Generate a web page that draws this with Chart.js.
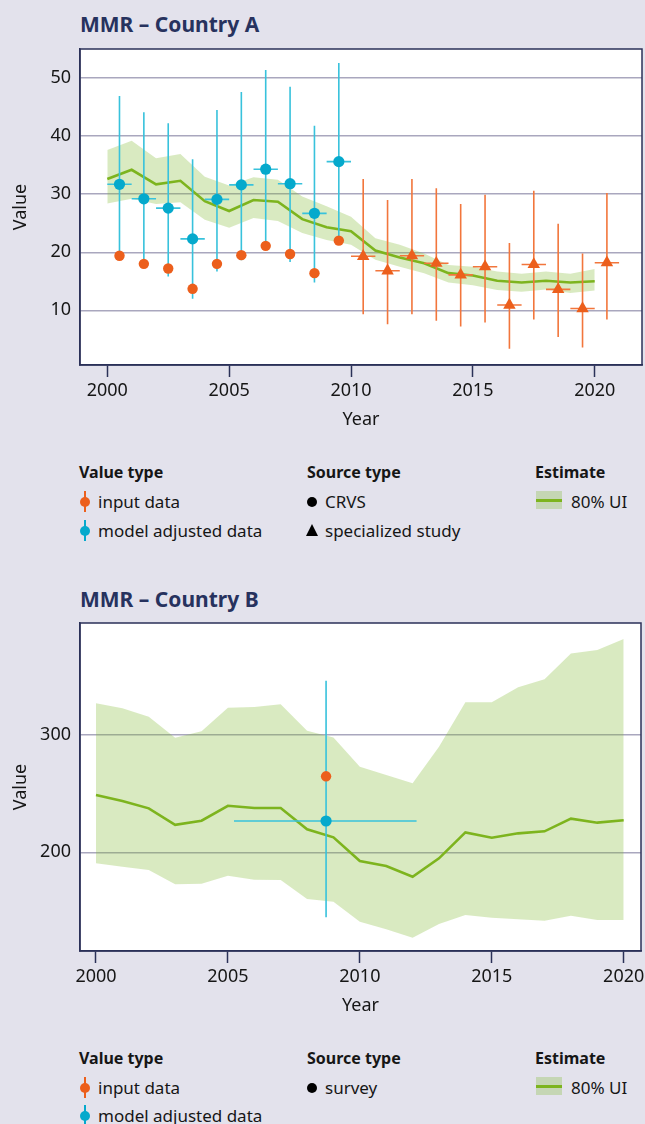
<!DOCTYPE html>
<html>
<head>
<meta charset="utf-8">
<script src="https://cdn.jsdelivr.net/npm/chart.js@4/dist/chart.umd.min.js"></script>
<style>
  body { margin:0; width:645px; height:1124px; background:#e3e2ec; position:relative; overflow:hidden;
         font-family:"Noto Sans", sans-serif; color:#161616; }
  .title { position:absolute; left:80px; height:28px; line-height:28px; font-size:21px; font-weight:700; color:#27325e; }
  canvas { position:absolute; left:0; }
  .hd { position:absolute; height:22px; line-height:22px; font-size:16px; font-weight:700; }
  .it { position:absolute; height:22px; line-height:22px; font-size:17px; }
  .eb { position:absolute; width:10px; height:21px; }
  .eb::before { content:""; position:absolute; left:4px; top:0; width:2px; height:21px; background:var(--c); }
  .eb::after  { content:""; position:absolute; left:0; top:5.5px; width:10px; height:10px; border-radius:50%; background:var(--c); }
  .dot { position:absolute; width:10px; height:10px; border-radius:50%; background:#000; }
  .tri { position:absolute; width:0; height:0; border-left:6.5px solid transparent; border-right:6.5px solid transparent; border-bottom:12px solid #000; }
  .band { position:absolute; width:26px; height:18px; background:rgba(130,185,50,0.3); }
  .band::after { content:""; position:absolute; left:0; top:7.5px; width:26px; height:3px; background:#7db41e; }
</style>
</head>
<body>

<div class="title" style="top:10px">MMR – Country A</div>
<canvas id="chartA" width="645" height="400" style="top:40px"></canvas>

<div class="hd" style="left:79px;top:461px">Value type</div>
<div class="eb" style="left:80px;top:491px;--c:#ec5f1c"></div>
<div class="it" style="left:98px;top:491px">input data</div>
<div class="eb" style="left:80px;top:520px;--c:#05a9cc"></div>
<div class="it" style="left:98px;top:520px">model adjusted data</div>
<div class="hd" style="left:307px;top:461px">Source type</div>
<div class="dot" style="left:307px;top:497px"></div>
<div class="it" style="left:325px;top:491px">CRVS</div>
<div class="tri" style="left:306px;top:524px"></div>
<div class="it" style="left:325px;top:520px">specialized study</div>
<div class="hd" style="left:535px;top:461px">Estimate</div>
<div class="band" style="left:536px;top:491px"></div>
<div class="it" style="left:571px;top:491px">80% UI</div>

<div class="title" style="top:585px">MMR – Country B</div>
<canvas id="chartB" width="645" height="414" style="top:612px"></canvas>

<div class="hd" style="left:79px;top:1047px">Value type</div>
<div class="eb" style="left:80px;top:1077px;--c:#ec5f1c"></div>
<div class="it" style="left:98px;top:1077px">input data</div>
<div class="eb" style="left:80px;top:1105px;--c:#05a9cc"></div>
<div class="it" style="left:98px;top:1105px">model adjusted data</div>
<div class="hd" style="left:307px;top:1047px">Source type</div>
<div class="dot" style="left:307px;top:1083px"></div>
<div class="it" style="left:325px;top:1077px">survey</div>
<div class="hd" style="left:535px;top:1047px">Estimate</div>
<div class="band" style="left:536px;top:1077px"></div>
<div class="it" style="left:571px;top:1077px">80% UI</div>

<script>
/* ---- Country A ---------------------------------------------------- */
const yearsA  = [2000,2001,2002,2003,2004,2005,2006,2007,2008,2009,2010,2011,2012,2013,2014,2015,2016,2017,2018,2019,2020];
const estA    = [32.6,34.2,31.7,32.3,28.8,27.1,29.0,28.7,25.7,24.3,23.6,20.3,19.1,18.1,16.4,16.0,15.1,14.8,15.1,14.8,15.0];
const estLoA  = [28.4,29.2,28.3,28.6,25.6,24.2,25.9,25.4,23.3,22.1,21.3,18.7,17.5,16.4,14.8,14.3,13.5,13.2,13.6,13.0,13.4];
const estHiA  = [37.6,39.2,36.2,36.9,33.0,31.5,32.9,32.5,29.6,27.9,26.1,22.4,21.3,19.8,17.8,17.5,16.7,16.3,16.7,16.3,17.1];

// CRVS observations: input value and model adjusted value with its interval
const crvsXA  = [2000.5,2001.5,2002.5,2003.5,2004.5,2005.5,2006.5,2007.5,2008.5,2009.5];
const crvsYA  = [19.4,18.0,17.2,13.7,18.0,19.5,21.1,19.7,16.4,22.0];
const adjYA   = [31.7,29.2,27.6,22.3,29.1,31.6,34.3,31.8,26.7,35.6];
const adjLoA  = [19.4,18.0,15.8,12.0,16.7,18.6,21.1,18.3,14.8,22.0];
const adjHiA  = [46.9,44.1,42.2,36.0,44.5,47.6,51.4,48.5,41.8,52.6];

// specialized studies (input data)
const studyXA  = [2010.5,2011.5,2012.5,2013.5,2014.5,2015.5,2016.5,2017.5,2018.5,2019.5,2020.5];
const studyYA  = [19.3,16.8,19.4,18.1,16.1,17.5,10.9,17.9,13.6,10.3,18.2];
const studyLoA = [9.3,7.6,9.3,8.2,7.2,7.9,3.4,8.4,5.4,3.6,8.4];
const studyHiA = [32.6,29.0,32.6,31.0,28.3,29.9,21.6,30.6,24.9,19.8,30.2];

const periodHalfA = 0.5;            // each observation covers one calendar year
const xTicksA = [2000,2005,2010,2015,2020];
const yTicksA = [10,20,30,40,50];

/* ---- Country B ---------------------------------------------------- */
const yearsB  = yearsA;
const estB    = [248.8,243.7,237.5,223.5,227.0,239.7,237.8,237.8,219.6,212.8,192.6,188.3,179.2,194.9,217.0,212.4,216.2,217.9,228.7,225.3,227.3];
const estLoB  = [190.6,187.7,184.9,172.7,173.2,180.0,176.6,176.4,160.2,157.9,140.8,134.4,127.2,138.9,146.5,144.3,142.9,141.7,146.0,142.3,142.3];
const estHiB  = [327.0,322.8,315.6,297.7,303.3,323.3,323.9,326.2,303.7,298.0,273.0,265.9,258.8,290.0,327.9,327.9,340.7,347.5,369.6,372.5,381.8];

const surveyXB    = [2008.72];
const surveyYB    = [264.8];
const surveyFromB = [2005.23];
const surveyToB   = [2012.15];
const adjYB   = [226.7];
const adjLoB  = [144.6];
const adjHiB  = [346.3];

const xTicksB = [2000,2005,2010,2015,2020];
const yTicksB = [200,300];

/* ---- styling ------------------------------------------------------ */
const NAVY = '#2b3158', GRID = '#a9a7be', GREEN = '#7db41e', BAND = 'rgba(130,185,50,0.3)';
const ORANGE = '#ec5f1c', ORANGE_BAR = '#f2763c', BLUE = '#05a9cc', BLUE_BAR = '#38c2dc';
const FONT = '"Noto Sans", sans-serif';

const pts = (xs, ys) => xs.map((x, i) => ({ x, y: ys[i] }));

// white plot area + dark frame round it
const frame = {
  id: 'frame',
  beforeDraw(chart) {
    const { ctx, chartArea: a } = chart;
    ctx.save();
    ctx.fillStyle = '#fff';
    ctx.fillRect(a.left, a.top, a.width, a.height);
    ctx.restore();
  },
  afterDraw(chart) {
    const { ctx, chartArea: a } = chart;
    ctx.save();
    ctx.strokeStyle = NAVY;
    ctx.lineWidth = 1.5;
    ctx.strokeRect(a.left, a.top, a.width, a.height);
    ctx.restore();
  },
};

// error bars, drawn right after the estimate line so the markers sit on top
const errorBars = {
  id: 'errorBars',
  afterDatasetDraw(chart, args, opts) {
    if (args.index !== opts.after) return;
    const { ctx, chartArea: a, scales: { x, y } } = chart;
    ctx.save();
    ctx.beginPath();
    ctx.rect(a.left, a.top, a.width, a.height);
    ctx.clip();
    ctx.lineWidth = 1.6;
    opts.sets.forEach(s => {
      ctx.strokeStyle = s.color;
      s.x.forEach((v, i) => {
        const px = x.getPixelForValue(v);
        const py = y.getPixelForValue(s.y[i]);
        ctx.beginPath();
        ctx.moveTo(px, y.getPixelForValue(s.lo[i]));
        ctx.lineTo(px, y.getPixelForValue(s.hi[i]));
        ctx.moveTo(x.getPixelForValue(s.from[i]), py);
        ctx.lineTo(x.getPixelForValue(s.to[i]), py);
        ctx.stroke();
      });
    });
    ctx.restore();
  },
};

// fixed axis sizes; drop the label overhang padding so layout.padding decides the plot box
const fixX = s => { s.height = 75; s.paddingLeft = 0; s.paddingRight = 0; };
const fixY = s => { s.width = 80; s.paddingTop = 0; s.paddingBottom = 0; };

function axes(xr, yr, xTicks, yTicks) {
  return {
    x: {
      type: 'linear', min: xr[0], max: xr[1],
      afterBuildTicks: s => { s.ticks = xTicks.map(value => ({ value })); },
      afterFit: fixX,
      grid: { drawOnChartArea: false, tickLength: 12, tickColor: NAVY, tickWidth: 1.5 },
      border: { color: NAVY, width: 1.5 },
      ticks: { color: '#161616', padding: 3.5, font: { family: FONT, size: 18 }, callback: v => String(v) },
      title: { display: true, text: 'Year', color: '#161616', padding: { top: 0, bottom: 9 }, font: { family: FONT, size: 18 } },
    },
    y: {
      type: 'linear', min: yr[0], max: yr[1],
      afterBuildTicks: s => { s.ticks = yTicks.map(value => ({ value })); },
      afterFit: fixY,
      grid: { color: GRID, lineWidth: 1.4, drawTicks: false },
      border: { color: NAVY, width: 1.5 },
      ticks: { color: '#161616', padding: 9, font: { family: FONT, size: 18 }, callback: v => String(v) },
      title: { display: true, text: 'Value', color: '#161616', padding: { top: 10, bottom: 0 }, font: { family: FONT, size: 18 } },
    },
  };
}

function bandSets(years, lo, hi, est) {
  return [
    { data: pts(years, lo), borderWidth: 0, pointRadius: 0, fill: false, order: 5 },
    { data: pts(years, hi), borderWidth: 0, pointRadius: 0, fill: '-1', backgroundColor: BAND, order: 4 },
    { data: pts(years, est), borderColor: GREEN, borderWidth: 2.6, pointRadius: 0, fill: false, tension: 0, order: 3 },
  ];
}

function mk(id, datasets, scales, padding, bars) {
  return new Chart(document.getElementById(id), {
    type: 'line',
    data: { datasets },
    options: {
      responsive: false, animation: false,
      layout: { padding, autoPadding: false },
      scales,
      plugins: { legend: { display: false }, tooltip: { enabled: false }, errorBars: { after: 2, sets: bars } },
    },
    plugins: [frame, errorBars],
  });
}

/* ---- Chart A ------------------------------------------------------ */
mk('chartA', [
  ...bandSets(yearsA, estLoA, estHiA, estA),
  { data: pts(crvsXA, adjYA), showLine: false, pointStyle: 'circle', pointRadius: 5.6, pointBorderWidth: 0, pointBackgroundColor: BLUE, order: 1 },
  { data: pts(crvsXA, crvsYA), showLine: false, pointStyle: 'circle', pointRadius: 5.2, pointBorderWidth: 0, pointBackgroundColor: ORANGE, order: 0 },
  { data: pts(studyXA, studyYA), showLine: false, pointStyle: 'triangle', pointRadius: 7.2, pointBorderWidth: 0, pointBackgroundColor: ORANGE, order: 0 },
], axes([1998.88, 2021.94], [0.58, 55], xTicksA, yTicksA), { top: 9, right: 3, left: 0, bottom: 0 }, [
  { color: BLUE_BAR, x: crvsXA, y: adjYA, lo: adjLoA, hi: adjHiA,
    from: crvsXA.map(v => v - periodHalfA), to: crvsXA.map(v => v + periodHalfA) },
  { color: ORANGE_BAR, x: studyXA, y: studyYA, lo: studyLoA, hi: studyHiA,
    from: studyXA.map(v => v - periodHalfA), to: studyXA.map(v => v + periodHalfA) },
]);

/* ---- Chart B ------------------------------------------------------ */
mk('chartB', [
  ...bandSets(yearsB, estLoB, estHiB, estB),
  { data: pts(surveyXB, adjYB), showLine: false, pointStyle: 'circle', pointRadius: 5.6, pointBorderWidth: 0, pointBackgroundColor: BLUE, order: 1 },
  { data: pts(surveyXB, surveyYB), showLine: false, pointStyle: 'circle', pointRadius: 5.2, pointBorderWidth: 0, pointBackgroundColor: ORANGE, order: 0 },
], axes([1999.394, 2020.656], [115.9, 395.5], xTicksB, yTicksB), { top: 11, right: 4, left: 0, bottom: 0 }, [
  { color: BLUE_BAR, x: surveyXB, y: adjYB, lo: adjLoB, hi: adjHiB, from: surveyFromB, to: surveyToB },
]);
</script>
</body>
</html>
